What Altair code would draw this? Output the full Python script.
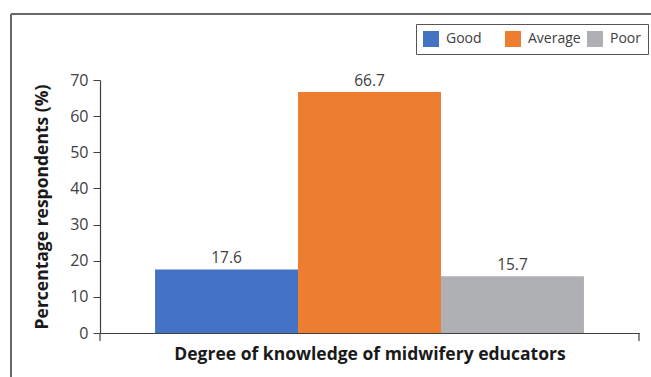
import altair as alt
import pandas as pd

# Share of respondents by degree of knowledge
levels = ["Good", "Average", "Poor"]
percent = [17.6, 66.7, 15.7]
colors = ["#4472C4", "#ED7D31", "#AEB0B3"]
y_ticks = [0, 10, 20, 30, 40, 50, 60, 70]

df = pd.DataFrame({"Level": levels, "Percent": percent})

W, H = 539, 253
FONT = "Open Sans"
TEXT = "#404040"

x_enc = alt.X(
    "Level:N",
    sort=levels,
    scale=alt.Scale(paddingInner=0, paddingOuter=0.385),
    axis=alt.Axis(
        title="Degree of knowledge of midwifery educators",
        labels=False,
        ticks=False,
        domainColor="#404040",
        domainWidth=1.2,
        titleFont=FONT,
        titleFontSize=17.5,
        titleFontWeight="bold",
        titleColor="#1a1a1a",
        titlePadding=12,
    ),
)
y_enc = alt.Y(
    "Percent:Q",
    scale=alt.Scale(domain=[0, 70], nice=False),
    axis=alt.Axis(
        values=y_ticks,
        labelOverlap=False,
        title="Percentage respondents (%)",
        grid=False,
        tickSize=7,
        tickColor="#404040",
        domainColor="#404040",
        domainWidth=1.2,
        labelFont=FONT,
        labelFontSize=16,
        labelColor=TEXT,
        labelPadding=5,
        titleFont=FONT,
        titleFontSize=17.5,
        titleFontWeight="bold",
        titleColor="#1a1a1a",
        titlePadding=18,
    ),
)

bars = alt.Chart(df).mark_bar().encode(
    x=x_enc,
    y=y_enc,
    color=alt.Color(
        "Level:N",
        sort=levels,
        scale=alt.Scale(domain=levels, range=colors),
        legend=alt.Legend(
            title=None,
            orient="none",
            legendX=316,
            legendY=-56,
            direction="horizontal",
            symbolType="square",
            symbolSize=256,
            symbolStrokeWidth=0,
            labelFont=FONT,
            labelFontSize=14,
            labelColor=TEXT,
            labelOffset=7,
            columnPadding=6,
            gridAlign="all",
            strokeColor="#555555",
            padding=7,
        ),
    ),
)

labels = alt.Chart(df).mark_text(
    dy=-11, font=FONT, fontSize=15.5, color=TEXT
).encode(
    x=x_enc,
    y=y_enc,
    text=alt.Text("Percent:Q", format=".1f"),
)

# boundary ticks of the category axis
edge_ticks = alt.Chart(pd.DataFrame({"px": [0, W]})).mark_rule(
    color="#404040", strokeWidth=1.2
).encode(
    x=alt.X("px:Q", scale=None),
    y=alt.value(H),
    y2=alt.value(H + 8),
)

# outer frame lines along the top and left edges
frame_top = alt.Chart(df).mark_rule(color="#666666", strokeWidth=1.5).encode(
    x=alt.value(-89), x2=alt.value(W + 20), y=alt.value(-66)
)
frame_left = alt.Chart(df).mark_rule(color="#666666", strokeWidth=1.5).encode(
    x=alt.value(-89), y=alt.value(-66), y2=alt.value(H + 60)
)

chart = (
    alt.layer(bars, labels, edge_ticks, frame_top, frame_left)
    .properties(
        width=W,
        height=H,
        autosize=alt.AutoSizeParams(type="none"),
        padding={"left": 100, "top": 80, "right": 12, "bottom": 44},
        background="white",
    )
    .configure_view(stroke=None)
)

chart.save("out.html", embed_options={"renderer": "svg", "actions": False})
